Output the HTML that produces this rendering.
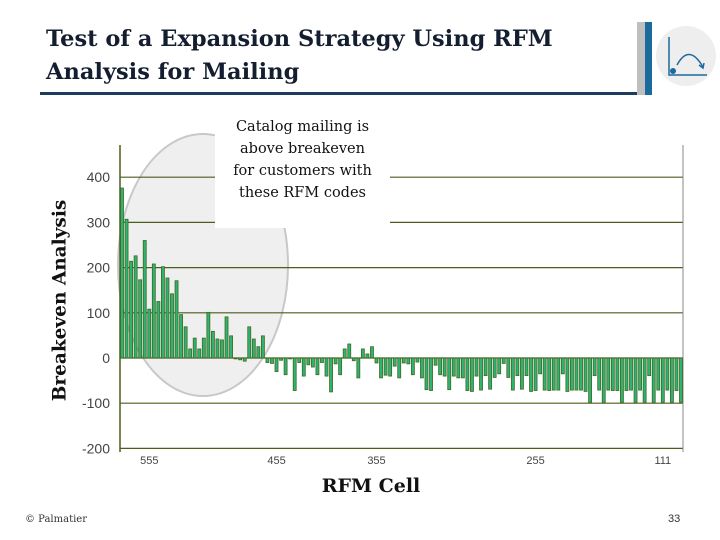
<!DOCTYPE html>
<html><head><meta charset="utf-8"><style>
body{margin:0;width:720px;height:540px;background:#fff;overflow:hidden;position:relative;font-family:"DejaVu Serif","Liberation Serif",serif}
.t{position:absolute;}
</style></head><body>
<div class="t" style="left:46px;top:23px;font-size:22.5px;font-weight:bold;color:#141e30;line-height:33px;white-space:nowrap">Test of a Expansion Strategy Using RFM<br>Analysis for Mailing</div>
<div class="t" style="left:40px;top:92px;width:597px;height:3px;background:#1f3a5f"></div>
<div class="t" style="left:637px;top:22px;width:8px;height:73px;background:#bfbfbf"></div>
<div class="t" style="left:645px;top:22px;width:7px;height:73px;background:#1b6a9e"></div>
<svg class="t" style="left:655px;top:25px" width="62" height="62">
<circle cx="31" cy="31" r="30" fill="#eeeeee"/>
<path d="M14 12 V50 H52" stroke="#1b6a9e" stroke-width="1.5" fill="none"/>
<circle cx="18" cy="46" r="3" fill="#1b6a9e"/>
<path d="M22 40 Q34 18 48 42" stroke="#1b6a9e" stroke-width="1.5" fill="none"/>
<path d="M44 40 L48 43 L49 38" stroke="#1b6a9e" stroke-width="1.5" fill="none"/>
</svg>
<svg id="chart" class="t" style="left:0;top:0" width="720" height="540"></svg>
<div class="t" style="left:215px;top:116px;width:175px;height:112px;background:#fff;text-align:center;font-size:14.5px;line-height:22px;color:#111;white-space:nowrap">Catalog mailing is<br>above breakeven<br>for customers with<br>these RFM codes</div>
<div class="t" style="left:-50px;top:290px;width:220px;text-align:center;transform:rotate(-90deg);font-size:18.5px;font-weight:bold;color:#111;white-space:nowrap">Breakeven Analysis</div>
<div class="t" style="left:290px;top:475px;width:162px;text-align:center;font-size:19px;font-weight:bold;color:#111">RFM Cell</div>
<div class="t" style="left:25px;top:514px;font-size:10px;color:#333">© Palmatier</div>
<div class="t" style="left:668px;top:513px;font-family:'Liberation Sans',sans-serif;font-size:11px;color:#333">33</div>
<script>
const yTicks=[400,300,200,100,0,-100,-200];
const xLabels=["555","455","355","255","111"];
const xLabelIdx=[6,34,56,91,119];
const values=[376,307,214,226,173,260,108,208,125,202,177,142,171,96,69,20,44,20,44,101,59,42,40,91,49,-2,-4,-7,69,42,25,49,-10,-12,-30,
-5,-37,-2,-72,-10,-40,-15,-20,-37,-10,-40,-75,-13,-37,20,31,-6,-44,20,9,25,-11,-44,-38,-40,-18,-44,-11,-13,-37,-9,-44,-70,-72,-16,-37,-40,-70,-40,-44,-44,-72,-74,-40,
-71,-39,-69,-43,-35,-12,-43,-71,-39,-69,-39,-74,-72,-35,-71,-72,-71,-71,-35,-74,-71,-71,-71,-74,-98,-39,-71,-98,-71,-72,-72,-98,-72,-71,-98,-71,-98,-39,-98,-71,-98,-71,-98,-72,-98];
const svg=document.getElementById('chart');const NS='http://www.w3.org/2000/svg';
const x0=120,x1=683;
function y(v){return 358-v*0.452;}
function bx(i){return 122+i*(x1-124)/(values.length-1);}
function mk(t,a){const e=document.createElementNS(NS,t);for(const k in a)e.setAttribute(k,a[k]);svg.appendChild(e);return e;}
let el=mk('ellipse',{cx:203,cy:265,rx:85,ry:131,fill:'#efefef',stroke:'#c8c8c8','stroke-width':2});


yTicks.forEach(v=>{
 let l=mk('line',{x1:x0,x2:x1,y1:y(v),y2:y(v),stroke:'#4b5e1e','stroke-width':1.2});
 
 
 let t=mk('text',{x:110,y:y(v)+5,'text-anchor':'end','font-family':'Liberation Sans,sans-serif','font-size':14,fill:'#444'});
 t.textContent=v;
 
 
});
let ax=mk('line',{x1:x0,x2:x0,y1:145,y2:452,stroke:'#4b5e1e','stroke-width':1.5});


let rb=mk('line',{x1:x1,x2:x1,y1:145,y2:452,stroke:'#888','stroke-width':1});


values.forEach((v,i)=>{
 const a=y(v),b=y(0);
 let r=mk('rect',{x:bx(i)-1.5,y:Math.min(a,b),width:3,height:Math.max(Math.abs(a-b),0.5),fill:'#2fb276',stroke:'#3f6a1c','stroke-width':0.8});
 
 
});
xLabels.forEach((s,k)=>{
 let t=mk('text',{x:bx(xLabelIdx[k]),y:464,'text-anchor':'middle','font-family':'Liberation Sans,sans-serif','font-size':11,fill:'#444'});
 t.textContent=s;
 
 
});
</script>
</body></html>
